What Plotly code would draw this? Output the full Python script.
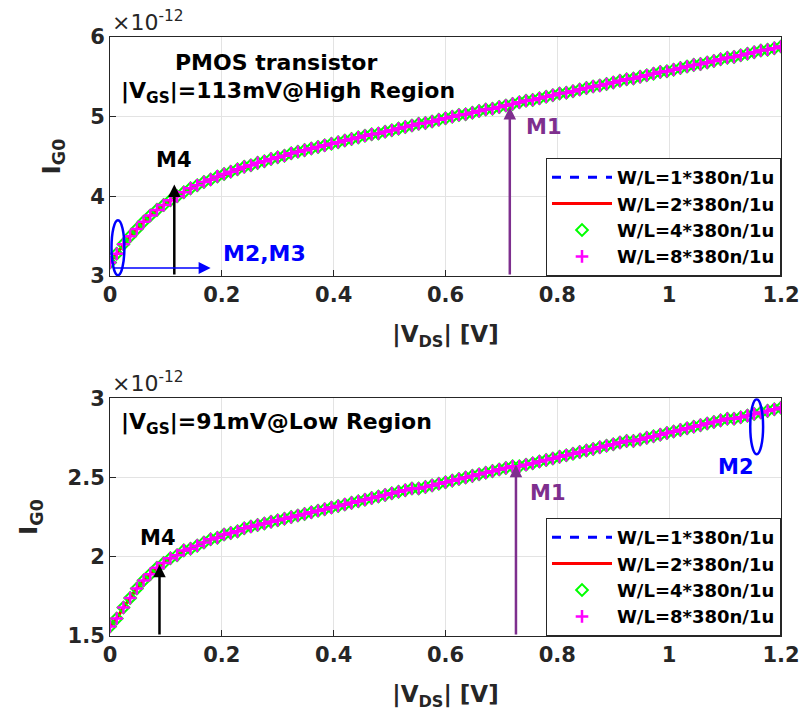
import plotly.graph_objects as go

# |V_DS| sweep [V]
VDS = [0, 0.012, 0.024, 0.036, 0.048, 0.06, 0.072, 0.084, 0.096, 0.108, 0.12,
       0.132, 0.144, 0.156, 0.168, 0.18, 0.192, 0.204, 0.216, 0.228, 0.24,
       0.252, 0.264, 0.276, 0.288, 0.3, 0.312, 0.324, 0.336, 0.348, 0.36,
       0.372, 0.384, 0.396, 0.408, 0.42, 0.432, 0.444, 0.456, 0.468, 0.48,
       0.492, 0.504, 0.516, 0.528, 0.54, 0.552, 0.564, 0.576, 0.588, 0.6,
       0.612, 0.624, 0.636, 0.648, 0.66, 0.672, 0.684, 0.696, 0.708, 0.72,
       0.732, 0.744, 0.756, 0.768, 0.78, 0.792, 0.804, 0.816, 0.828, 0.84,
       0.852, 0.864, 0.876, 0.888, 0.9, 0.912, 0.924, 0.936, 0.948, 0.96,
       0.972, 0.984, 0.996, 1.008, 1.02, 1.032, 1.044, 1.056, 1.068, 1.08,
       1.092, 1.104, 1.116, 1.128, 1.14, 1.152, 1.164, 1.176, 1.188, 1.2]

# I_G0 (x1e-12) at |V_GS| = 113 mV (high region)
IG_HIGH = [3.17,
           3.28, 3.40, 3.50, 3.59, 3.68, 3.76, 3.83, 3.89, 3.95, 4.00,
           4.05, 4.10, 4.14, 4.18, 4.21, 4.25, 4.28, 4.31, 4.34, 4.37,
           4.39, 4.42, 4.44, 4.47, 4.49, 4.51, 4.54, 4.56, 4.58, 4.60,
           4.62, 4.64, 4.66, 4.68, 4.70, 4.72, 4.74, 4.76, 4.78, 4.79,
           4.81, 4.83, 4.85, 4.87, 4.89, 4.91, 4.92, 4.94, 4.96, 4.98,
           5.00, 5.02, 5.03, 5.05, 5.07, 5.09, 5.10, 5.12, 5.14, 5.16,
           5.18, 5.20, 5.21, 5.23, 5.25, 5.27, 5.29, 5.30, 5.32, 5.34,
           5.36, 5.38, 5.39, 5.41, 5.43, 5.45, 5.47, 5.48, 5.50, 5.52,
           5.54, 5.56, 5.57, 5.59, 5.61, 5.63, 5.65, 5.66, 5.68, 5.70,
           5.72, 5.74, 5.75, 5.77, 5.79, 5.81, 5.83, 5.84, 5.86, 5.88]

# I_G0 (x1e-12) at |V_GS| = 91 mV (low region)
IG_LOW = [1.56,
          1.61, 1.68, 1.74, 1.80, 1.85, 1.89, 1.93, 1.96, 1.99, 2.01,
          2.04, 2.05, 2.07, 2.09, 2.11, 2.12, 2.14, 2.15, 2.16, 2.18,
          2.19, 2.20, 2.21, 2.22, 2.23, 2.24, 2.25, 2.26, 2.27, 2.28,
          2.29, 2.30, 2.31, 2.32, 2.33, 2.34, 2.35, 2.36, 2.37, 2.38,
          2.39, 2.40, 2.41, 2.42, 2.43, 2.43, 2.44, 2.45, 2.46, 2.47,
          2.48, 2.49, 2.50, 2.51, 2.52, 2.53, 2.54, 2.55, 2.56, 2.57,
          2.57, 2.58, 2.59, 2.60, 2.61, 2.62, 2.63, 2.64, 2.65, 2.66,
          2.67, 2.68, 2.69, 2.70, 2.71, 2.72, 2.73, 2.73, 2.74, 2.75,
          2.76, 2.77, 2.78, 2.79, 2.80, 2.81, 2.82, 2.83, 2.84, 2.85,
          2.86, 2.87, 2.87, 2.88, 2.89, 2.90, 2.91, 2.92, 2.93, 2.94]

SERIES = ["W/L=1*380n/1u", "W/L=2*380n/1u", "W/L=4*380n/1u", "W/L=8*380n/1u"]
X_TICKS = [0, 0.2, 0.4, 0.6, 0.8, 1, 1.2]
Y_TICKS_HIGH = [3, 4, 5, 6]
Y_TICKS_LOW = [1.5, 2, 2.5, 3]

FONT = "DejaVu Sans"
AX = "#262626"
PURPLE = "#7E2F8E"

fig = go.Figure()


def add_panel(ydata, xa, ya, legend):
    fig.add_trace(go.Scatter(x=VDS, y=ydata, mode="lines", name=SERIES[0],
                             line=dict(color="#0000ff", width=3, dash="dash"),
                             xaxis=xa, yaxis=ya, legend=legend))
    fig.add_trace(go.Scatter(x=VDS, y=ydata, mode="lines", name=SERIES[1],
                             line=dict(color="#ff0000", width=3),
                             xaxis=xa, yaxis=ya, legend=legend))
    fig.add_trace(go.Scatter(x=VDS, y=ydata, mode="markers", name=SERIES[2],
                             marker=dict(symbol="diamond-open", size=9, color="#00ff00",
                                         line=dict(width=2, color="#00ff00")),
                             xaxis=xa, yaxis=ya, legend=legend))
    fig.add_trace(go.Scatter(x=VDS, y=ydata, mode="markers", name=SERIES[3],
                             marker=dict(symbol="cross-thin", size=9, color="#ff00ff",
                                         line=dict(width=2.5, color="#ff00ff")),
                             xaxis=xa, yaxis=ya, legend=legend))


add_panel(IG_HIGH, "x", "y", "legend")
add_panel(IG_LOW, "x2", "y2", "legend2")

axis_common = dict(showline=True, mirror=True, linecolor=AX, linewidth=1,
                   ticks="inside", ticklen=6, tickcolor=AX, showgrid=True,
                   gridcolor="#e3e3e3", gridwidth=1, zeroline=False,
                   tickfont=dict(family=FONT, size=21, color=AX, weight="bold"))

xtitle = dict(text="|V<sub>DS</sub>| [V]", font=dict(family=FONT, size=23, color=AX, weight="bold"),
              standoff=19)
ytitle = dict(text="I<sub>G0</sub>", font=dict(family=FONT, size=25, color=AX, weight="bold"),
              standoff=22)

top_dom = [0.601, 1.0]
bot_dom = [0.0, 0.397]

legend_common = dict(x=1, xanchor="right", yanchor="bottom",
                     bgcolor="white", bordercolor=AX, borderwidth=1, itemwidth=60,
                     tracegroupgap=0,
                     font=dict(family=FONT, size=18, color="black", weight="bold"))

fig.update_layout(
    width=812, height=720,
    margin=dict(l=110, r=24, t=37, b=84),
    paper_bgcolor="white", plot_bgcolor="white",
    xaxis=dict(domain=[0, 1], range=[0, 1.2], tickvals=X_TICKS, anchor="y",
               title=xtitle, **axis_common),
    yaxis=dict(domain=top_dom, range=[3, 6], tickvals=Y_TICKS_HIGH, anchor="x",
               title=ytitle, **axis_common),
    xaxis2=dict(domain=[0, 1], range=[0, 1.2], tickvals=X_TICKS, anchor="y2",
                title=xtitle, **axis_common),
    yaxis2=dict(domain=bot_dom, range=[1.5, 3], tickvals=Y_TICKS_LOW, anchor="x2",
                title=ytitle, **axis_common),
    legend=dict(y=top_dom[0], **legend_common),
    legend2=dict(y=bot_dom[0], **legend_common),
    showlegend=True,
)


def txt(x, y, text, color="black", size=21, xref="x", yref="y", xanchor="center"):
    fig.add_annotation(x=x, y=y, xref=xref, yref=yref, text=text, showarrow=False,
                       xanchor=xanchor, yanchor="middle",
                       font=dict(family=FONT, size=size, color=color, weight="bold"))


def arrow(x, y, ax, ay, color, width=2.5, xref="x", yref="y", size=1.0):
    fig.add_annotation(x=x, y=y, ax=ax, ay=ay, xref=xref, yref=yref,
                       axref=xref, ayref=yref, text="", showarrow=True,
                       arrowhead=2, arrowsize=size, arrowwidth=width, arrowcolor=color)


# exponent labels
for yr in ["y domain", "y2 domain"]:
    xr = "x domain" if yr == "y domain" else "x2 domain"
    fig.add_annotation(x=0, y=1, xref=xr, yref=yr, xanchor="left", yanchor="bottom",
                       showarrow=False, yshift=0,
                       text="×10<sup>-12</sup>",
                       font=dict(family=FONT, size=22, color=AX))

# --- top panel annotations ---
txt(0.297, 5.685, "PMOS transistor", size=22)
txt(0.016, 5.30, "|V<sub>GS</sub>|=113mV@High Region", xanchor="left", size=22)
arrow(0.115, 4.15, 0.115, 3.0, "black", width=2.5)
txt(0.115, 4.46, "M4")
arrow(0.18, 3.10, 0.003, 3.10, "#0000ff", width=1.5, size=1.6)
txt(0.198, 3.28, "M2,M3", color="#0000ff", xanchor="left", size=22)
fig.add_shape(type="circle", xref="x", yref="y", x0=0.0027, x1=0.0257, y0=3.01, y1=3.70,
              line=dict(color="#0000ff", width=2.5))
arrow(0.715, 5.12, 0.715, 3.0, PURPLE, width=2.5)
txt(0.74, 4.87, "M1", color=PURPLE, xanchor="left")

# --- bottom panel annotations ---
txt(0.016, 2.84, "|V<sub>GS</sub>|=91mV@Low Region", xref="x2", yref="y2", xanchor="left", size=22)
arrow(0.0885, 1.95, 0.0885, 1.5, "black", width=2.5, xref="x2", yref="y2")
txt(0.085, 2.12, "M4", xref="x2", yref="y2")
arrow(0.726, 2.58, 0.726, 1.5, PURPLE, width=2.5, xref="x2", yref="y2")
txt(0.748, 2.40, "M1", color=PURPLE, xref="x2", yref="y2", xanchor="left")
fig.add_shape(type="circle", xref="x2", yref="y2", x0=1.145, x1=1.168, y0=2.647, y1=2.993,
              line=dict(color="#0000ff", width=2.5))
txt(1.12, 2.565, "M2", color="#0000ff", xref="x2", yref="y2")

fig.write_html("out.html")
